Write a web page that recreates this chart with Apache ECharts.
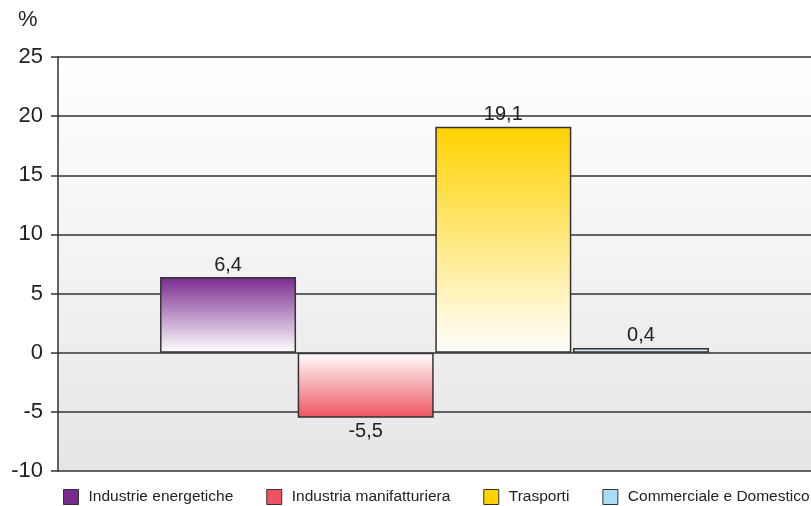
<!DOCTYPE html>
<html><head><meta charset="utf-8">
<script src="https://cdn.jsdelivr.net/npm/echarts@6/dist/echarts.min.js"></script>
<style>html,body{margin:0;padding:0;background:#fff}#c{width:811px;height:506px}</style>
</head><body><div id="c"></div>
<script>
var categories = ['Variazione'];
var seriesNames = ['Industrie energetiche', 'Industria manifatturiera', 'Trasporti', 'Commerciale e Domestico'];
var seriesValues = [6.4, -5.5, 19.1, 0.4];
var seriesColors = ['#7a2a8e', '#ee5361', '#ffd200', '#a9dcf5'];
var yTicks = {min: -10, max: 25, interval: 5};

function grad(c, neg) {
  return {type: 'linear', x: 0, y: 0, x2: 0, y2: 1,
    colorStops: neg ? [{offset: 0, color: '#ffffff'}, {offset: 1, color: c}]
                    : [{offset: 0, color: c}, {offset: 1, color: '#ffffff'}]};
}
var series = seriesNames.map(function (n, i) {
  var v = seriesValues[i];
  return {
    name: n, type: 'bar', data: [v], barWidth: 136, barGap: '1.2%',
    itemStyle: {color: grad(seriesColors[i], v < 0), borderColor: '#333', borderWidth: 1.5},
    label: {show: true, position: v < 0 ? 'bottom' : 'top', distance: v < 0 ? 4 : 2,
      fontFamily: 'Liberation Sans', fontSize: 20, color: '#222',
      formatter: function (p) { return String(p.value).replace('.', ','); }}
  };
});
var chart = echarts.init(document.getElementById('c'));
chart.setOption({
  animation: false,
  title: {text: '%', left: 18, top: 9, padding: 0, textStyle: {fontFamily: 'Liberation Sans', fontSize: 22, fontWeight: 'normal', color: '#222'}},
  grid: {left: 58, right: 0, top: 57, bottom: 35, show: true, borderWidth: 0,
    backgroundColor: {type: 'linear', x: 0, y: 0, x2: 0, y2: 1,
      colorStops: [{offset: 0, color: '#ffffff'}, {offset: 1, color: '#e6e6e7'}]}},
  legend: {
    data: seriesNames.map(function (n, i) { return {name: n, itemStyle: {color: seriesColors[i], borderColor: '#333', borderWidth: 1}}; }),
    icon: 'rect', top: 489, left: 63, padding: 0, itemWidth: 15, itemHeight: 15, itemGap: 33,
    textStyle: {fontFamily: 'Liberation Sans', fontSize: 15.5, color: '#222', padding: [0, 0, 0, 5]}
  },
  xAxis: {type: 'category', data: categories, axisLabel: {show: false}, axisTick: {show: false},
    axisLine: {show: false}},
  yAxis: {type: 'value', min: yTicks.min, max: yTicks.max, interval: yTicks.interval,
    axisLine: {show: true, lineStyle: {color: '#333', width: 1.5}},
    axisTick: {show: true, length: 7, lineStyle: {color: '#333', width: 1.5}},
    axisLabel: {fontFamily: 'Liberation Sans', fontSize: 22, color: '#222', margin: 15},
    splitLine: {lineStyle: {color: '#333', width: 1.5}}},
  series: series
});
</script></body></html>
